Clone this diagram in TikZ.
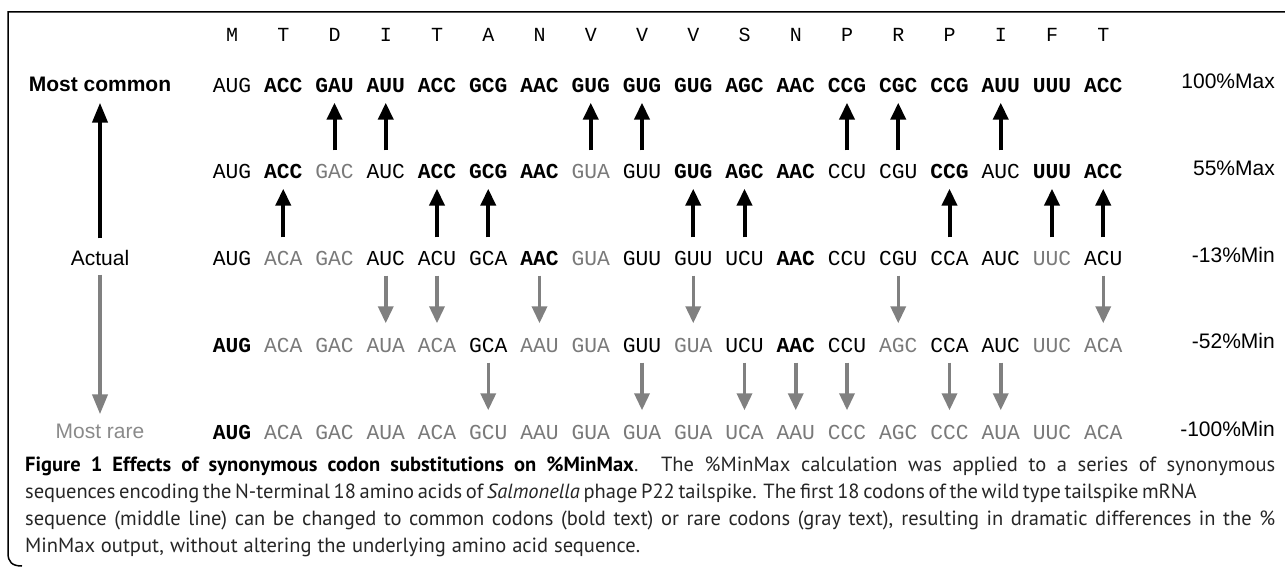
\documentclass[tikz,border=0pt]{standalone}
\usepackage{fontspec}
\setmainfont{PT Sans}
\newfontfamily\codefont{Liberation Mono}
\newfontfamily\labfont{Liberation Sans}
\usetikzlibrary{arrows.meta}
\definecolor{codgray}{HTML}{7A7A7A}
\definecolor{arrgray}{HTML}{808080}
\definecolor{raregray}{HTML}{8A8A8A}
\definecolor{captext}{HTML}{262626}
\tikzset{
  cod/.style={font={\codefont\fontsize{21.3pt}{24pt}\selectfont}, inner xsep=0pt, inner ysep=10pt, text height=15pt, text depth=0pt},
  cn/.style={text=black},
  cb/.style={text=black, font={\codefont\fontsize{21.3pt}{24pt}\selectfont\bfseries}},
  cg/.style={text=codgray},
  aa/.style={font={\codefont\fontsize{20pt}{24pt}\selectfont}, inner sep=0pt, text height=14pt, text depth=0pt},
  lab/.style={font={\labfont\fontsize{21pt}{24pt}\selectfont}, inner sep=0pt, text height=15pt, text depth=0pt},
  pct/.style={lab, anchor=east},
  blkup/.style={line width=4pt, -{Triangle[width=15pt,length=17pt]}, shorten <=3pt},
  grydn/.style={arrgray, line width=3.5pt, -{Triangle[width=15pt,length=17pt]}, shorten <=0pt, shorten >=4pt},
  capline/.style={anchor=base west, inner sep=0pt, text=captext, font={\fontsize{20.5pt}{26pt}\selectfont}},
}
\begin{document}
\begin{tikzpicture}[x=1pt,y=-1pt]
\useasboundingbox (0,0) rectangle (1285,567);
% frame
\draw[line width=1.5pt] (1285,12) -- (8,12) -- (8,553) .. controls (8,562) and (12,566) .. (22,566);
% amino acids
\foreach \t [count=\i] in {M,T,D,I,T,A,N,V,V,V,S,N,P,R,P,I,F,T}
  \node[aa] (a\i) at ({232+51.25*(\i-1)},35) {\t};
% row 1
\foreach \t/\s [count=\i] in {AUG/n,ACC/b,GAU/b,AUU/b,ACC/b,GCG/b,AAC/b,GUG/b,GUG/b,GUG/b,AGC/b,AAC/b,CCG/b,CGC/b,CCG/b,AUU/b,UUU/b,ACC/b}
  \node[cod,c\s] (r1c\i) at ({232+51.25*(\i-1)},85) {\t};
% row 2
\foreach \t/\s [count=\i] in {AUG/n,ACC/b,GAC/g,AUC/n,ACC/b,GCG/b,AAC/b,GUA/g,GUU/n,GUG/b,AGC/b,AAC/b,CCU/n,CGU/n,CCG/b,AUC/n,UUU/b,ACC/b}
  \node[cod,c\s] (r2c\i) at ({232+51.25*(\i-1)},171) {\t};
% row 3
\foreach \t/\s [count=\i] in {AUG/n,ACA/g,GAC/g,AUC/n,ACU/n,GCA/n,AAC/b,GUA/g,GUU/n,GUU/n,UCU/n,AAC/b,CCU/n,CGU/n,CCA/n,AUC/n,UUC/g,ACU/n}
  \node[cod,c\s] (r3c\i) at ({232+51.25*(\i-1)},258) {\t};
% row 4
\foreach \t/\s [count=\i] in {AUG/b,ACA/g,GAC/g,AUA/g,ACA/g,GCA/n,AAU/g,GUA/g,GUU/n,GUA/g,UCU/n,AAC/b,CCU/n,AGC/g,CCA/n,AUC/n,UUC/g,ACA/g}
  \node[cod,c\s] (r4c\i) at ({232+51.25*(\i-1)},345) {\t};
% row 5
\foreach \t/\s [count=\i] in {AUG/b,ACA/g,GAC/g,AUA/g,ACA/g,GCU/g,AAU/g,GUA/g,GUA/g,GUA/g,UCA/g,AAU/g,CCC/g,AGC/g,CCC/g,AUA/g,UUC/g,ACA/g}
  \node[cod,c\s] (r5c\i) at ({232+51.25*(\i-1)},432) {\t};
% arrows
\foreach \i in {3,4,8,9,13,14,16} \draw[blkup] (r2c\i) -- (r1c\i);
\foreach \i in {2,5,6,10,11,15,17,18} \draw[blkup] (r3c\i) -- (r2c\i);
\foreach \i in {4,5,7,10,14,18} \draw[grydn] (r3c\i) -- (r4c\i);
\foreach \i in {6,9,11,12,13,15,16} \draw[grydn] (r4c\i) -- (r5c\i);
% left scale
\node[lab, font={\labfont\fontsize{21pt}{24pt}\selectfont\bfseries}] (mc) at (100,84) {Most common};
\node[lab] (act) at (100,258) {Actual};
\node[lab, text=raregray] (mr) at (100,431) {Most rare};
\draw[line width=4pt, -{Triangle[width=15pt,length=20pt]}, shorten <=12pt, shorten >=11pt] (act) -- (mc);
\draw[arrgray, line width=4pt, -{Triangle[width=15pt,length=20pt]}, shorten <=9pt, shorten >=9pt] (act) -- (mr);
% right labels
\node[pct] (p1) at (1275,81) {100\%Max};
\node[pct] (p2) at (1275,168) {55\%Max};
\node[pct] (p3) at (1275,255) {-13\%Min};
\node[pct] (p4) at (1275,341) {-52\%Min};
\node[pct] (p5) at (1275,429) {-100\%Min};
% caption
\node[capline] (cap1) at (25,471) {\makebox[1250pt][s]{\textbf{\color{black}Figure 1 Effects of synonymous codon substitutions on \%MinMax}. The \%MinMax calculation was applied to a series of synonymous}};
\node[capline] (cap2) at (25,498) {\makebox[1140pt][s]{sequences encoding the N-terminal 18 amino acids of \textit{Salmonella} phage P22 tailspike. The first 18 codons of the wild type tailspike mRNA}};
\node[capline] (cap3) at (25,525) {\makebox[1250pt][s]{sequence (middle line) can be changed to common codons (bold text) or rare codons (gray text), resulting in dramatic differences in the \%}};
\node[capline] (cap4) at (25,552) {\makebox[615pt][s]{MinMax output, without altering the underlying amino acid sequence.}};
\end{tikzpicture}
\end{document}
